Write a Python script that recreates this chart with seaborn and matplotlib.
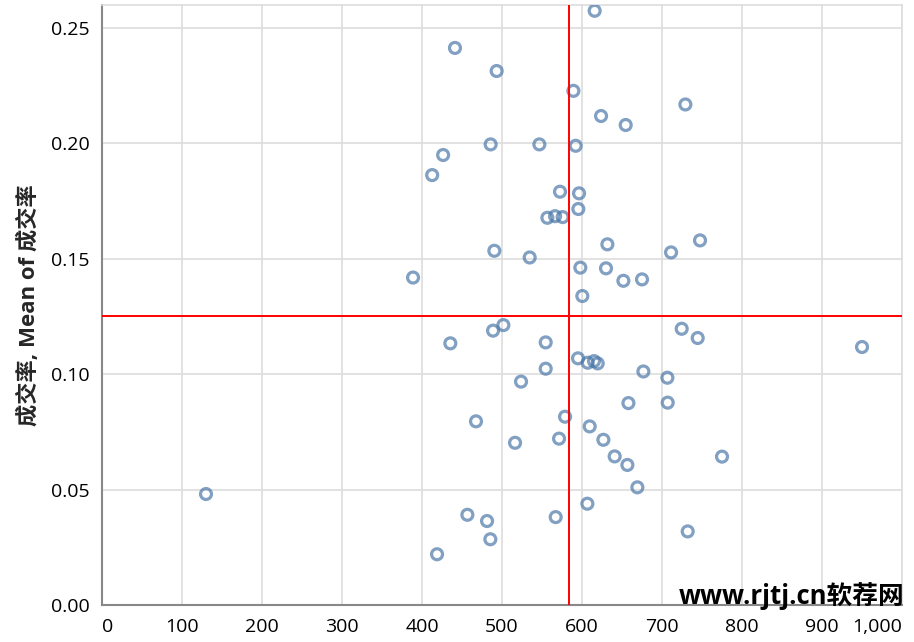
import matplotlib
matplotlib.use("Agg")
import matplotlib.pyplot as plt
import seaborn as sns
import pandas as pd

# values
price = [130, 388.8, 412.7, 426.4, 441.2, 493.3, 589.2, 615.8, 623.8, 654.6, 729.2,
         485.8, 546.7, 592.1, 572.5, 596.3, 595.4, 556.7, 566.3, 575.8, 631.7, 747.5,
         711.3, 490.4, 534.6, 597.9, 630.0, 651.7, 675.0, 600.4,
         501.7, 488.8, 435.4, 554.6, 724.6, 744.6, 595.0, 607.1, 615.0, 619.6,
         554.6, 676.7, 706.7, 523.8, 658.0, 707.1, 467.5, 578.8, 609.6, 571.3,
         516.3, 626.7, 640.8, 656.7, 775.0, 669.2, 606.7, 456.7, 567.1, 481.3,
         485.4, 732.1, 418.8, 950.0]
rate = [0.0481, 0.1419, 0.1863, 0.1950, 0.2414, 0.2314, 0.2228, 0.2575, 0.2119, 0.2080, 0.2169,
        0.1996, 0.1996, 0.1990, 0.1791, 0.1784, 0.1716, 0.1678, 0.1685, 0.1681, 0.1563, 0.1580,
        0.1528, 0.1535, 0.1506, 0.1462, 0.1459, 0.1405, 0.1411, 0.1339,
        0.1213, 0.1189, 0.1134, 0.1138, 0.1197, 0.1157, 0.1069, 0.1050, 0.1057, 0.1047,
        0.1024, 0.1012, 0.0985, 0.0968, 0.0875, 0.0877, 0.0796, 0.0816, 0.0774, 0.0721,
        0.0703, 0.0716, 0.0644, 0.0607, 0.0643, 0.0510, 0.0439, 0.0391, 0.0381, 0.0364,
        0.0285, 0.0319, 0.0220, 0.1118]
mean_x = 584
mean_y = 0.1252
x_ticks = [0, 100, 200, 300, 400, 500, 600, 700, 800, 900, 1000]
y_ticks = [0.00, 0.05, 0.10, 0.15, 0.20, 0.25]

df = pd.DataFrame({"price": price, "rate": rate})

sns.set_style("white")
plt.rcParams["font.family"] = ["Open Sans", "Noto Sans CJK SC", "DejaVu Sans"]

fig = plt.figure(figsize=(9.14, 6.42), dpi=100)
ax = fig.add_axes([0.1116, 0.0576, 0.8753, 0.9346])

ax.grid(True, color="#dddddd", linewidth=1.2, zorder=0)
ax.set_axisbelow(True)

sns.scatterplot(data=df, x="price", y="rate", ax=ax, marker="o", s=62,
                facecolor="none", edgecolor="#4c78a8", linewidth=2.3, alpha=0.7, zorder=3)

ax.axvline(mean_x, color="red", linewidth=1.4, zorder=4)
ax.axhline(mean_y, color="red", linewidth=1.4, zorder=4)

ax.set_xlim(0, 1000)
ax.set_ylim(0, 0.26)
ax.set_xticks(x_ticks)
ax.set_xticklabels([f"{v:,}" for v in x_ticks])
ax.set_yticks(y_ticks)
ax.set_yticklabels([f"{v:.2f}" for v in y_ticks])

for side in ["left", "bottom"]:
    ax.spines[side].set_color("#888888")
    ax.spines[side].set_linewidth(1.5)
for side in ["top", "right"]:
    ax.spines[side].set_color("#dddddd")
    ax.spines[side].set_linewidth(1.2)

ax.tick_params(axis="both", which="major", direction="out", length=6, width=1.5,
               color="#888888", labelsize=14, labelcolor="black", pad=3)

# first and last x labels sit flush with the plot edges
xlabels = ax.get_xticklabels()
xlabels[0].set_horizontalalignment("left")
xlabels[-1].set_horizontalalignment("right")

ax.set_xlabel("")
ax.set_ylabel("成交率, Mean of 成交率", fontsize=16, fontweight="bold", labelpad=8)

fig.text(0.99, 0.072, "www.rjtj.cn软荐网", ha="right", va="center",
         fontsize=18.5, fontweight="bold", color="black")

fig.savefig("out.png", dpi=100)
